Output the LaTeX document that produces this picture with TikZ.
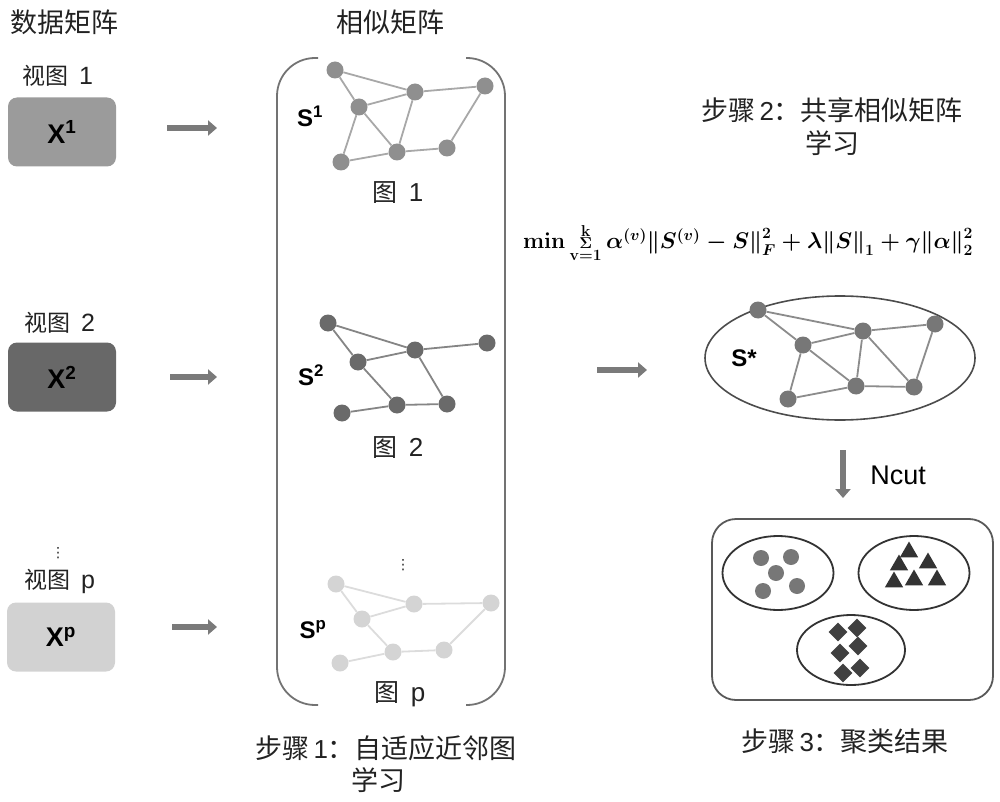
\documentclass[tikz,border=0pt]{standalone}
\usepackage{fontspec}
\usepackage{graphicx}
\setmainfont{Liberation Sans}
\newfontfamily\cjk{Noto Sans CJK SC}
\newfontfamily\dejavu{DejaVu Sans}
\usetikzlibrary{shapes.geometric,arrows.meta}
\definecolor{txt}{HTML}{222222}
\definecolor{nodeA}{HTML}{8F8F8F}\definecolor{edgeA}{HTML}{A8A8A8}
\definecolor{nodeB}{HTML}{6A6A6A}\definecolor{edgeB}{HTML}{858585}
\definecolor{nodeP}{HTML}{D4D4D4}\definecolor{edgeP}{HTML}{DCDCDC}
\definecolor{nodeS}{HTML}{777777}\definecolor{edgeS}{HTML}{8C8C8C}
\definecolor{boxA}{HTML}{9B9B9B}\definecolor{boxB}{HTML}{686868}\definecolor{boxP}{HTML}{D2D2D2}
\definecolor{arr}{HTML}{7A7A7A}
\newcommand\myformula{$\mathbf{min}\mathop{\scriptstyle\Sigma}\limits_{\mathbf{v=1}}^{\mathbf{k}}\alpha^{(v)}\bigl\|S^{(v)}-S\bigr\|_F^2+\lambda\bigl\|S\bigr\|_1+\gamma\bigl\|\alpha\bigr\|_2^2$}
\tikzset{
  cjklabel/.style={text=txt,font=\cjk\fontsize{23}{27}\selectfont,inner sep=0pt},
  steplabel/.style={text=txt,font=\cjk\fontsize{27}{31}\selectfont,inner sep=0pt},
  xbox/.style={rounded corners=9pt,minimum width=108pt,minimum height=69pt,inner sep=0pt,font=\bfseries\fontsize{27}{30}\selectfont},
  slabel/.style={font=\bfseries\fontsize{24}{28}\selectfont,inner sep=0pt},
  gnA/.style={circle,fill=nodeA,minimum size=17pt,inner sep=0pt},
  gnB/.style={circle,fill=nodeB,minimum size=17pt,inner sep=0pt},
  gnP/.style={circle,fill=nodeP,minimum size=17pt,inner sep=0pt},
  gnS/.style={circle,fill=nodeS,minimum size=17pt,inner sep=0pt},
  geA/.style={draw=edgeA,line width=1.8pt},
  geB/.style={draw=edgeB,line width=1.8pt},
  geP/.style={draw=edgeP,line width=1.8pt},
  geS/.style={draw=edgeS,line width=1.8pt},
  fatarrow/.style={draw=arr,line width=6pt,-{Triangle[length=9pt,width=15pt]}},
  ell/.style={ellipse,draw=black!80,line width=1.8pt,inner sep=0pt},
  dot/.style={circle,fill=nodeS,minimum size=16pt,inner sep=0pt},
  tri/.style={regular polygon,regular polygon sides=3,fill=black!80,minimum size=21pt,inner sep=0pt},
  dia/.style={diamond,fill=black!75,minimum size=19pt,inner sep=0pt},
  vdot/.style={text=txt,font=\dejavu\fontsize{14}{16}\selectfont,inner sep=0pt},
}
\begin{document}
\begin{tikzpicture}[x=1pt,y=-1pt]
\useasboundingbox (0,0) rectangle (1000,802);
% column titles
\node[cjklabel,font=\cjk\fontsize{27}{31}\selectfont] (t1) at (64,22) {数据矩阵};
\node[cjklabel,font=\cjk\fontsize{27}{31}\selectfont] (t2) at (390,22) {相似矩阵};
% views
\node[cjklabel] (v1) at (58,76) {视图\ \ {\rmfamily\fontsize{25}{29}\selectfont 1}};
\node[xbox,fill=boxA] (x1) at (62,132) {X\textsuperscript{1}};
\node[cjklabel] (v2) at (60,323) {视图\ \ {\rmfamily\fontsize{25}{29}\selectfont 2}};
\node[xbox,fill=boxB] (x2) at (62,377) {X\textsuperscript{2}};
\node[vdot] (vd1) at (58,553) {⋮};
\node[cjklabel] (vp) at (60,581) {视图\ \ {\rmfamily\fontsize{25}{29}\selectfont p}};
\node[xbox,fill=boxP] (xp) at (61,637) {X\textsuperscript{p}};
% arrows to similarity graphs
\coordinate (a1s) at (167,128); \coordinate (a1e) at (217,128);
\coordinate (a2s) at (170,377); \coordinate (a2e) at (217,377);
\coordinate (a3s) at (172,627); \coordinate (a3e) at (217,627);
\draw[fatarrow] (a1s) -- (a1e);
\draw[fatarrow] (a2s) -- (a2e);
\draw[fatarrow] (a3s) -- (a3e);
% bracket
\draw[draw=black!55,line width=1.8pt,rounded corners=38pt] (318,58) -- (277,58) -- (277,705) -- (318,705);
\draw[draw=black!55,line width=1.8pt,rounded corners=38pt] (466,58) -- (505,58) -- (505,705) -- (466,705);
% graph 1
\foreach \n/\px/\py in {a/335/70,b/415/92,c/485/86,d/359/107,e/397/152,f/447/148,g/341/162}
  \node[gnA] (g1\n) at (\px,\py) {};
\foreach \u/\v in {a/b,a/d,d/b,b/c,d/g,d/e,b/e,g/e,e/f,f/c}
  \draw[geA] (g1\u) -- (g1\v);
\node[slabel] (s1) at (310,116) {S\textsuperscript{1}};
\node[cjklabel,font=\cjk\fontsize{25}{29}\selectfont] (l1) at (398,193) {图\ \ {\rmfamily\fontsize{26}{30}\selectfont 1}};
% graph 2
\foreach \n/\px/\py in {a/328/323,b/415/350,c/487/343,d/358/362,e/397/405,f/447/404,g/342/413}
  \node[gnB] (g2\n) at (\px,\py) {};
\foreach \u/\v in {a/b,a/d,d/b,b/c,d/e,b/f,g/e,e/f}
  \draw[geB] (g2\u) -- (g2\v);
\node[slabel] (s2) at (311,375) {S\textsuperscript{2}};
\node[cjklabel,font=\cjk\fontsize{25}{29}\selectfont] (l2) at (398,448) {图\ \ {\rmfamily\fontsize{26}{30}\selectfont 2}};
% graph p
\node[vdot] (vd2) at (403,565) {⋮};
\foreach \n/\px/\py in {a/336/584,b/414/604,c/491/603,d/362/619,e/393/652,f/444/650,g/340/663}
  \node[gnP] (gp\n) at (\px,\py) {};
\foreach \u/\v in {a/b,a/d,d/b,b/c,d/e,g/e,e/f,f/c}
  \draw[geP] (gp\u) -- (gp\v);
\node[slabel] (sp) at (313,630) {S\textsuperscript{p}};
\node[cjklabel,font=\cjk\fontsize{25}{29}\selectfont] (lp) at (400,694) {图\ \ {\rmfamily\fontsize{26}{30}\selectfont p}};
% step 1 label
\node[steplabel] (st1a) at (386,748) {步骤\,{\rmfamily\fontsize{26}{30}\selectfont 1}：自适应近邻图};
\node[steplabel] (st1b) at (378,780) {学习};
% middle arrow
\coordinate (ams) at (597,370); \coordinate (ame) at (647,370);
\draw[fatarrow] (ams) -- (ame);
% step 2 title
\node[steplabel] (st2a) at (832,110) {步骤\,{\rmfamily\fontsize{26}{30}\selectfont 2}：共享相似矩阵};
\node[steplabel] (st2b) at (832,143) {学习};
% formula
\node[inner sep=0pt,font=\fontsize{25}{30}\selectfont\boldmath] (form) at (748,243)
  {\resizebox*{450pt}{37pt}{\myformula}};
% S* ellipse
\node[ellipse,draw=black!70,line width=1.6pt,minimum width=270pt,minimum height=124pt,inner sep=0pt] (sell) at (840,358) {};
\foreach \n/\px/\py in {a/758/310,b/863/331,c/935/324,d/803/345,e/856/386,f/914/387,g/788/399}
  \node[gnS] (gs\n) at (\px,\py) {};
\foreach \u/\v in {a/b,a/d,d/b,b/c,d/g,d/e,b/e,b/f,g/e,e/f,f/c}
  \draw[geS] (gs\u) -- (gs\v);
\node[slabel] (ss) at (744,358) {S*};
% Ncut arrow
\coordinate (ncs) at (843,450); \coordinate (nce) at (843,498);
\draw[fatarrow] (ncs) -- (nce);
\node[inner sep=0pt,font=\fontsize{27}{30}\selectfont] (ncut) at (898,475) {Ncut};
% result box
\draw[draw=black!65,line width=1.8pt,rounded corners=24pt] (712,519) rectangle (993,700);
\node[ell,minimum width=111pt,minimum height=74pt] (c1) at (778,573) {};
\node[ell,minimum width=111pt,minimum height=74pt] (c2) at (914,573) {};
\node[ell,minimum width=108pt,minimum height=70pt] (c3) at (851,650) {};
\foreach \n/\px/\py in {a/761/558,b/791/557,c/776/573,d/763/591,e/797/586}
  \node[dot] (d\n) at (\px,\py) {};
\foreach \n/\px/\py in {a/909/552,b/899/565,c/928/563,d/894/582,e/914/580,f/937/580}
  \node[tri] (t\n) at (\px,\py) {};
\foreach \n/\px/\py in {a/838/632,b/857/628,c/840/653,d/858/646,e/843/673,f/860/668}
  \node[dia] (m\n) at (\px,\py) {};
\node[steplabel] (st3) at (845,741) {步骤\,{\rmfamily\fontsize{26}{30}\selectfont 3}：聚类结果};
\end{tikzpicture}
\end{document}
